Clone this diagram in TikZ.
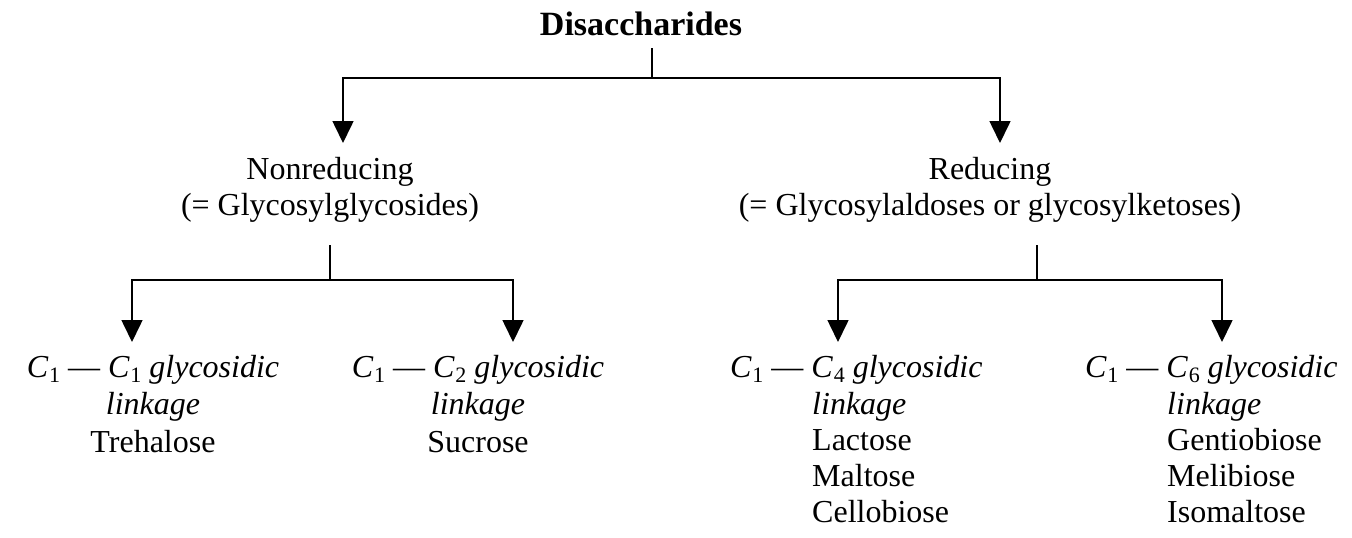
\documentclass[tikz,border=0pt]{standalone}
\usepackage{fontspec}
\setmainfont{Liberation Serif}
\usetikzlibrary{arrows.meta}
\newcommand\Csub[1]{\textit{C}\kern0.02em\raisebox{-0.35ex}{\fontsize{22}{22}\selectfont #1}}
\begin{document}
\begin{tikzpicture}[x=1pt,y=-1pt,
  txt/.style={inner sep=0pt,font=\fontsize{32}{36}\selectfont},
  leaf/.style={txt,font=\fontsize{32}{37.5}\selectfont},
  conn/.style={line width=1.6pt},
  arr/.style={conn,-{Triangle[width=21pt,length=22pt]}}]
\useasboundingbox (0,0) rectangle (1352,538);
% top
\node[txt,font=\fontsize{34}{36}\selectfont\bfseries] (dis) at (641,24) {Disaccharides};
\node[txt,align=center,anchor=north] (nonred) at (330,157) {Nonreducing\\(= Glycosylglycosides)};
\node[txt,align=center,anchor=north] (red) at (990,157) {Reducing\\(= Glycosylaldoses or glycosylketoses)};
\coordinate (s0) at (652,48);
\coordinate (j0) at (652,78);
\coordinate (t1) at (343,143);
\coordinate (t2) at (1000,143);
\draw[conn] (s0) -- (j0);
\draw[arr] (j0) -| (t1);
\draw[arr] (j0) -| (t2);
% left subtree
\coordinate (s1) at (330,245);
\coordinate (j1) at (330,280);
\coordinate (t11) at (132,342);
\coordinate (t12) at (513,342);
\draw[conn] (s1) -- (j1);
\draw[arr] (j1) -| (t11);
\draw[arr] (j1) -| (t12);
% right subtree
\coordinate (s2) at (1037,245);
\coordinate (j2) at (1037,280);
\coordinate (t21) at (838,342);
\coordinate (t22) at (1222,342);
\draw[conn] (s2) -- (j2);
\draw[arr] (j2) -| (t21);
\draw[arr] (j2) -| (t22);
% leaves
\node[leaf,align=center,anchor=north] (l1) at (153,355) {\Csub{1} — \Csub{1} \textit{glycosidic}\\\textit{linkage}\\Trehalose};
\node[leaf,align=center,anchor=north] (l2) at (478,355) {\Csub{1} — \Csub{2} \textit{glycosidic}\\\textit{linkage}\\Sucrose};
\node[txt,anchor=north west] (l3h) at (730,355) {\Csub{1} — \Csub{4} \textit{glycosidic}};
\node[txt,align=left,anchor=north west] (l3) at (812,392) {\textit{linkage}\\Lactose\\Maltose\\Cellobiose};
\node[txt,anchor=north west] (l4h) at (1085,355) {\Csub{1} — \Csub{6} \textit{glycosidic}};
\node[txt,align=left,anchor=north west] (l4) at (1167,392) {\textit{linkage}\\Gentiobiose\\Melibiose\\Isomaltose};
\end{tikzpicture}
\end{document}
